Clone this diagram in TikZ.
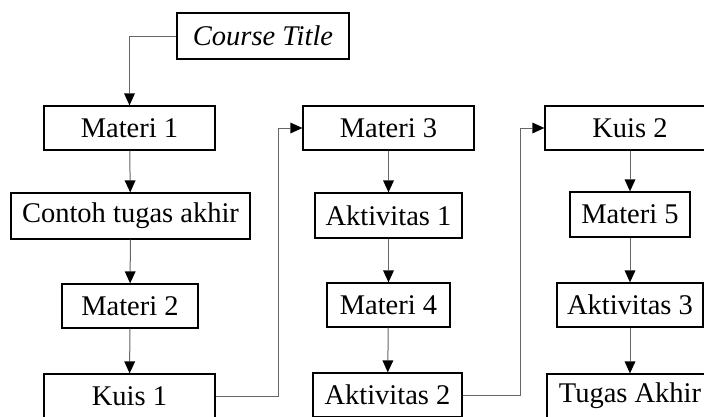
\documentclass[tikz,border=0pt]{standalone}
\usepackage{fontspec}
\setmainfont{Liberation Serif}
\usetikzlibrary{arrows.meta}
\begin{document}
\begin{tikzpicture}[x=1pt,y=-1pt,
  box/.style={draw=black,line width=1.3pt,inner sep=0pt,font=\fontsize{28.5}{30}\selectfont,anchor=center},
  conn/.style={draw=black!60,line width=1pt,-{Triangle[length=12pt,width=11pt,color=black,fill=black,line width=0pt]}}]
\clip (0,0) rectangle (704,416);
\useasboundingbox (0,0) rectangle (704,416);
\node[box,minimum width=172pt,minimum height=46pt] (ct) at (263,36) {\itshape Course Title};
\node[box,minimum width=171pt,minimum height=44pt] (m1) at (129.5,128) {Materi 1};
\node[box,minimum width=239pt,minimum height=46pt] (ct2) at (130.5,216) {Contoh tugas akhir};
\node[box,minimum width=136pt,minimum height=44pt] (m2) at (130,306) {Materi 2};
\node[box,minimum width=171pt,minimum height=44pt] (k1) at (129.5,396) {Kuis 1};
\node[box,minimum width=171pt,minimum height=44pt] (m3) at (388.5,128) {Materi 3};
\node[box,minimum width=147pt,minimum height=45pt] (a1) at (388.5,215.5) {Aktivitas 1};
\node[box,minimum width=123pt,minimum height=44pt] (m4) at (388.5,305) {Materi 4};
\node[box,minimum width=149pt,minimum height=44pt] (a2) at (387.5,395) {Aktivitas 2};
\node[box,minimum width=170pt,minimum height=44pt] (k2) at (630,128) {Kuis 2};
\node[box,minimum width=120pt,minimum height=45pt] (m5) at (630,214.5) {Materi 5};
\node[box,minimum width=146pt,minimum height=44pt] (a3) at (630,305) {Aktivitas 3};
\node[box,minimum width=166pt,minimum height=44pt] (ta) at (630,396) {Tugas Akhir};
\draw[conn] (ct.west) -| (m1.north);
\draw[conn] (m1) -- (ct2);
\draw[conn] (ct2) -- (m2);
\draw[conn] (m2) -- (k1);
\draw[conn] (k1.east) -- ++(63,0) |- (m3.west);
\draw[conn] (m3) -- (a1);
\draw[conn] (a1) -- (m4);
\draw[conn] (m4) -- (a2);
\draw[conn] (a2.east) -- ++(58,0) |- (k2.west);
\draw[conn] (k2) -- (m5);
\draw[conn] (m5) -- (a3);
\draw[conn] (a3) -- (ta);
\end{tikzpicture}
\end{document}
